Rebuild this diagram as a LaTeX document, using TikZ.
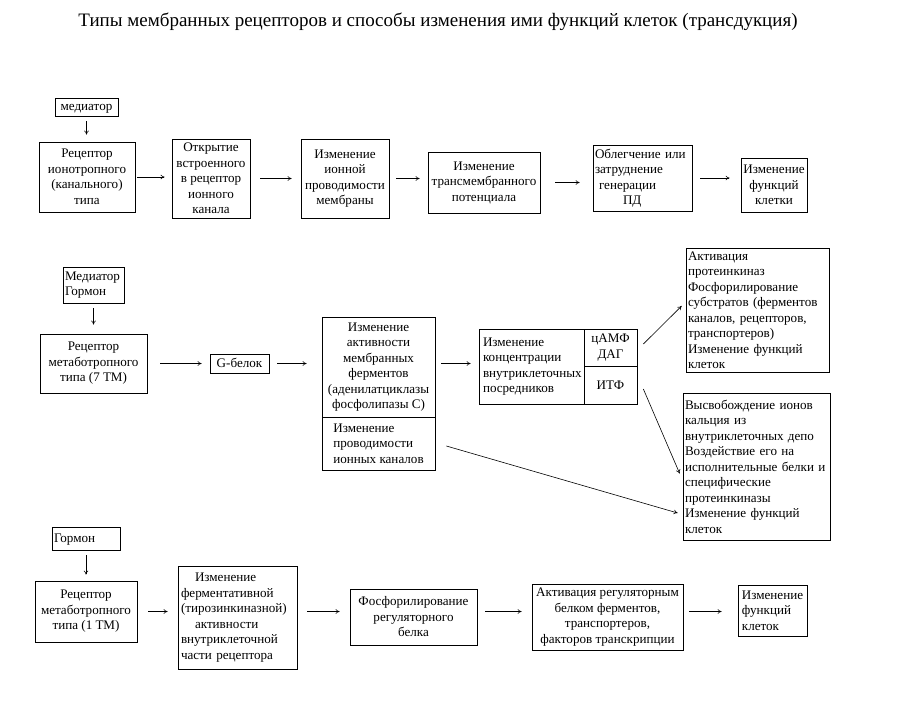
\documentclass[tikz,border=0pt]{standalone}
\usepackage{fontspec}
\setmainfont{Liberation Serif}
\usetikzlibrary{arrows.meta}
\begin{document}
\begin{tikzpicture}[x=1pt,y=-1pt,
  bx/.style={draw, line width=0.7pt, inner sep=2pt, font=\fontsize{13.1}{15.5}\selectfont, align=center},
  sz/.style n args={2}{minimum width=#1pt, minimum height=#2pt},
  lt/.style={align=left, text width=#1pt},
  oneline/.style={text height=#1pt, text depth=0pt},
  arr/.style={-{To[length=4pt,width=4.5pt]}, line width=0.6pt},
  ttl/.style={font=\fontsize{19}{22}\selectfont}]
\useasboundingbox[fill=white] (0,0) rectangle (923,706);
\node[ttl] (title) at (438,22) {Типы мембранных рецепторов и способы изменения ими функций клеток (трансдукция)};
% Row 1
\node[bx, sz={63}{18}, oneline=6.5] (m1) at (86.5,107) {медиатор};
\node[bx, sz={96}{70}] (r1) at (87,177) {Рецептор\\ионотропного\\(канального)\\типа};
\node[bx, sz={78}{79}] (o1) at (211,178.5) {Открытие\\встроенного\\в рецептор\\ионного\\канала};
\node[bx, sz={88}{79}] (i1) at (345,178.5) {Изменение\\ионной\\проводимости\\мембраны};
\node[bx, sz={112}{61}] (t1) at (484,182.5) {Изменение\\трансмембранного\\потенциала};
\node[bx, sz={99}{66}, lt=95] (b1) at (642.5,178) {Облегчение или\\затруднение\\\hspace*{4pt}генерации\\\hspace*{28pt}ПД};
\node[bx, sz={66}{54}] (f1) at (774,185) {Изменение\\функций\\клетки};
% Row 2
\node[bx, sz={61}{36}, lt=57] (m2) at (93.5,285) {Медиатор\\Гормон};
\node[bx, sz={107}{59}] (r2) at (93.5,363.5) {Рецептор\\метаботропного\\типа (7 ТМ)};
\node[bx, sz={59}{19}, oneline=8.7] (g2) at (239.5,363.5) {G-белок};
\node[bx, sz={113}{100}] (e2a) at (378.5,367) {Изменение\\активности\\мембранных\\ферментов\\(аденилатциклазы\\фосфолипазы С)};
\node[bx, sz={113}{53}, align=left] (e2b) at (378.5,443.5) {Изменение\\проводимости\\ионных каналов};
\node[bx, sz={105}{75}, lt=97] (c2a) at (531.5,366.5) {Изменение\\концентрации\\внутриклеточных\\посредников};
\node[bx, sz={53}{37}] (c2b) at (610.5,347.5) {цАМФ\\ДАГ};
\node[bx, sz={53}{38}] (c2c) at (610.5,385) {ИТФ};
\node[bx, sz={143}{124}, lt=139] (a2) at (757.5,310) {Активация\\протеинкиназ\\Фосфорилирование\\субстратов (ферментов\\каналов, рецепторов,\\транспортеров)\\Изменение функций\\клеток};
\node[bx, sz={147}{147}, lt=143] (v2) at (756.5,466.5) {Высвобождение ионов\\кальция из\\внутриклеточных депо\\Воздействие его на\\исполнительные белки и\\специфические\\протеинкиназы\\Изменение функций\\клеток};
% Row 3
\node[bx, sz={68}{23}, lt=64, oneline=8.7] (m3) at (86,538.5) {Гормон};
\node[bx, sz={102}{61}] (r3) at (86,611.5) {Рецептор\\метаботропного\\типа (1 ТМ)};
\node[bx, sz={119}{103}, lt=113] (e3) at (237.5,617.5) {\hspace*{14pt}Изменение\\ферментативной\\(тирозинкиназной)\\\hspace*{14pt}активности\\внутриклеточной\\части рецептора};
\node[bx, sz={127}{56}] (p3) at (413.5,617) {Фосфорилирование\\регуляторного\\белка};
\node[bx, sz={151}{66}] (ar3) at (607.5,617) {Активация регуляторным\\белком ферментов,\\транспортеров,\\факторов транскрипции};
\node[bx, sz={69}{51}, align=left] (f3) at (772.5,610.5) {Изменение\\функций\\клеток};
% Arrows row 1
\draw[arr, shorten <=5pt, shorten >=7pt] (m1.south) -- (m1.south |- r1.north);
\draw[arr, shorten <=2pt, shorten >=7pt] (r1.east) -- (r1.east -| o1.west);
\draw[arr, shorten <=10pt, shorten >=9pt] (o1.east) -- (o1.east -| i1.west);
\draw[arr, shorten <=7pt, shorten >=8pt] (i1.east) -- (i1.east -| t1.west);
\draw[arr, shorten <=15pt, shorten >=13pt] (t1.east) -- (t1.east -| b1.west);
\draw[arr, shorten <=8pt, shorten >=11pt] (b1.east) -- (b1.east -| f1.west);
% Arrows row 2
\draw[arr, shorten <=5pt, shorten >=9pt] (m2.south) -- (m2.south |- r2.north);
\draw[arr, shorten <=13pt, shorten >=8pt] (r2.east) -- (r2.east -| g2.west);
\draw[arr, shorten <=8pt, shorten >=15pt] (g2.east) -- (g2.east -| e2a.west);
\draw[arr, shorten <=6pt, shorten >=8pt] (e2a.east |- g2.east) -- (c2a.west |- g2.east);
\draw[arr] ([xshift=6pt,yshift=3.5pt]c2b.east) -- ([xshift=-4pt,yshift=4pt]a2.west);
\draw[arr] ([xshift=6pt,yshift=-4pt]c2c.east) -- ([xshift=-3pt,yshift=-7pt]v2.west);
\draw[arr] ([xshift=11pt,yshift=-2.5pt]e2b.east) -- ([xshift=-5pt,yshift=-46.5pt]v2.west);
% Arrows row 3
\draw[arr, shorten <=5pt, shorten >=6pt] (m3.south) -- (m3.south |- r3.north);
\draw[arr, shorten <=11pt, shorten >=10pt] (r3.east) -- (r3.east -| e3.west);
\draw[arr, shorten <=10pt, shorten >=10pt] (e3.east |- r3.east) -- (p3.west |- r3.east);
\draw[arr, shorten <=8pt, shorten >=10pt] (p3.east |- r3.east) -- (ar3.west |- r3.east);
\draw[arr, shorten <=6pt, shorten >=16pt] (ar3.east |- r3.east) -- (f3.west |- r3.east);
\end{tikzpicture}
\end{document}
